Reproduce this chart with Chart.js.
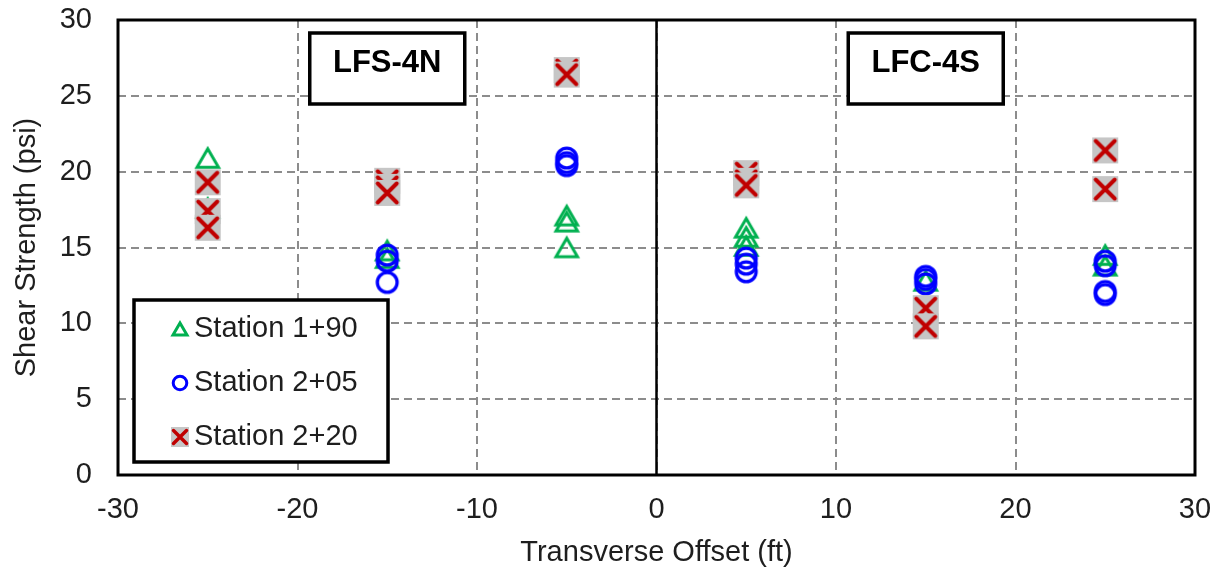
<!DOCTYPE html>
<html>
<head>
<meta charset="utf-8">
<script src="https://cdn.jsdelivr.net/npm/chart.js@4.4.1/dist/chart.umd.min.js"></script>
<style>
  html, body { margin: 0; padding: 0; background: #ffffff; }
  #wrap { width: 1215px; height: 571px; }
</style>
</head>
<body>
<div id="wrap"><canvas id="c" width="1215" height="571"></canvas></div>
<script>
// Axis ticks
const xTicks = [-30, -20, -10, 0, 10, 20, 30];
const yTicks = [0, 5, 10, 15, 20, 25, 30];

// Series names and panel labels
const seriesNames = ['Station 1+90', 'Station 2+05', 'Station 2+20'];
const panelNames = ['LFS-4N', 'LFC-4S'];
const panelOffsets = [-15, 15];

// Station 1+90 (triangles)
const offsets190 = [-25, -25, -15, -15, -5, -5, -5, 5, 5, 5, 15, 25, 25];
const strength190 = [20.9, 17.6, 14.8, 14.3, 17.1, 16.7, 15.0, 16.3, 15.7, 15.1, 12.8, 14.5, 13.8];

// Station 2+05 (circles)
const offsets205 = [-15, -15, -15, -5, -5, -5, 5, 5, 5, 15, 15, 15, 25, 25, 25, 25];
const strength205 = [14.5, 14.1, 12.7, 20.9, 20.6, 20.4, 14.3, 13.9, 13.4, 13.1, 12.9, 12.6, 14.1, 13.8, 12.1, 11.9];

// Station 2+20 (crosses)
const offsets220 = [-25, -25, -25, -15, -15, -15, -5, -5, 5, 5, 5, 15, 15, 25, 25];
const strength220 = [19.3, 17.4, 16.3, 19.4, 19.0, 18.6, 26.7, 26.4, 19.9, 19.4, 19.1, 11.0, 9.8, 21.4, 18.85];

const GREEN = '#00b050';
const BLUE = '#0000ff';
const RED = '#c00000';
const GRAYBOX = '#c6c6c6';
const TEXT = '#1e1e1e';
const FONT = "'Liberation Sans', Arial, sans-serif";

// Paint one marker of the given kind centred on (cx, cy)
function paintMarker(g, kind, cx, cy, big) {
  g.save();
  if (kind === 'triangle') {
    const w = big ? 21.5 : 14, h = big ? 18.5 : 12;
    g.beginPath();
    g.moveTo(cx, cy - h / 2);
    g.lineTo(cx + w / 2, cy + h / 2);
    g.lineTo(cx - w / 2, cy + h / 2);
    g.closePath();
    g.lineWidth = 3;
    g.lineJoin = 'miter';
    g.strokeStyle = GREEN;
    g.stroke();
  } else if (kind === 'circle') {
    const r = big ? 9.9 : 6.8;
    g.beginPath();
    g.arc(cx, cy, r, 0, Math.PI * 2);
    g.lineWidth = big ? 3.3 : 3;
    g.strokeStyle = BLUE;
    g.stroke();
  } else {
    const bw = big ? 26 : 18, bh = big ? 26 : 20;
    const d = big ? 9.5 : 6.5;
    g.fillStyle = GRAYBOX;
    g.fillRect(cx - bw / 2, cy - bh / 2, bw, bh);
    g.beginPath();
    g.moveTo(cx - d, cy - d); g.lineTo(cx + d, cy + d);
    g.moveTo(cx + d, cy - d); g.lineTo(cx - d, cy + d);
    g.lineWidth = big ? 4 : 3.5;
    g.lineCap = 'round';
    g.strokeStyle = RED;
    g.stroke();
  }
  g.restore();
}

function markerCanvas(kind) {
  const c = document.createElement('canvas');
  c.width = 32; c.height = 32;
  paintMarker(c.getContext('2d'), kind, 16, 16, true);
  return c;
}

const kinds = ['triangle', 'circle', 'cross'];
const toPoints = (xs, ys) => xs.map((x, i) => ({ x: x, y: ys[i] }));

// Frame, zero line, panel name boxes and the legend box
const overlay = {
  id: 'overlay',
  afterDatasetsDraw(chart) {
    const { ctx, chartArea: a, scales } = chart;
    ctx.save();
    // vertical line at zero offset
    const x0 = scales.x.getPixelForValue(0);
    ctx.beginPath();
    ctx.moveTo(x0, a.top); ctx.lineTo(x0, a.bottom);
    ctx.lineWidth = 2.5; ctx.strokeStyle = '#000';
    ctx.stroke();

    // panel name boxes
    ctx.font = 'bold 31px ' + FONT;
    ctx.textAlign = 'center'; ctx.textBaseline = 'middle';
    panelNames.forEach((name, i) => {
      const cx = scales.x.getPixelForValue(panelOffsets[i]);
      const bw = 155, top = a.top + 13, bh = 71;
      ctx.fillStyle = '#fff';
      ctx.fillRect(cx - bw / 2, top, bw, bh);
      ctx.lineWidth = 3.5; ctx.strokeStyle = '#000';
      ctx.strokeRect(cx - bw / 2, top, bw, bh);
      ctx.fillStyle = '#000';
      ctx.fillText(name, cx, top + 30);
    });

    // legend
    const lx = a.left + 16, ly = a.top + 280, lw = 254, lh = 162;
    ctx.fillStyle = '#fff';
    ctx.fillRect(lx, ly, lw, lh);
    ctx.lineWidth = 3.5; ctx.strokeStyle = '#000';
    ctx.strokeRect(lx, ly, lw, lh);
    ctx.font = '29px ' + FONT;
    ctx.textAlign = 'left'; ctx.textBaseline = 'middle';
    seriesNames.forEach((name, i) => {
      const ry = ly + 29 + i * 54;
      paintMarker(ctx, kinds[i], lx + 46, ry, false);
      ctx.fillStyle = TEXT;
      ctx.fillText(name, lx + 60, ry);
    });

    // plot frame
    ctx.lineWidth = 3; ctx.strokeStyle = '#000';
    ctx.strokeRect(a.left, a.top, a.right - a.left, a.bottom - a.top);
    ctx.restore();
  }
};

const gridOpts = { color: '#8c8c8c', lineWidth: 2, drawTicks: false };
const borderOpts = { display: false, dash: [8, 5] };

new Chart(document.getElementById('c'), {
  type: 'scatter',
  data: {
    datasets: [
      { label: seriesNames[0], data: toPoints(offsets190, strength190), pointStyle: markerCanvas('triangle'), pointRadius: 10, order: 3 },
      { label: seriesNames[1], data: toPoints(offsets205, strength205), pointStyle: markerCanvas('circle'), pointRadius: 10, order: 2 },
      { label: seriesNames[2], data: toPoints(offsets220, strength220), pointStyle: markerCanvas('cross'), pointRadius: 10, order: 1 }
    ]
  },
  options: {
    responsive: false,
    animation: false,
    events: [],
    layout: { padding: { top: 20, right: 20, left: 0, bottom: 0 } },
    plugins: { legend: { display: false }, tooltip: { enabled: false } },
    scales: {
      x: {
        type: 'linear',
        min: xTicks[0], max: xTicks[xTicks.length - 1],
        afterBuildTicks: s => { s.ticks = xTicks.map(v => ({ value: v })); },
        afterFit: s => { s.height = 96; s.paddingLeft = 0; s.paddingRight = 0; },
        grid: gridOpts,
        border: borderOpts,
        ticks: { font: { family: FONT, size: 29 }, color: TEXT, padding: 18, maxRotation: 0, autoSkip: false },
        title: { display: true, text: 'Transverse Offset (ft)', font: { family: FONT, size: 29 }, color: TEXT, padding: { top: 0, bottom: 1 } }
      },
      y: {
        type: 'linear',
        min: yTicks[0], max: yTicks[yTicks.length - 1],
        afterBuildTicks: s => { s.ticks = yTicks.map(v => ({ value: v })); },
        afterFit: s => { s.width = 118; s.paddingTop = 0; s.paddingBottom = 0; },
        grid: gridOpts,
        border: borderOpts,
        ticks: { font: { family: FONT, size: 29 }, color: TEXT, padding: 26, autoSkip: false },
        title: { display: true, text: 'Shear Strength (psi)', font: { family: FONT, size: 29 }, color: TEXT, padding: { top: 10, bottom: 0 } }
      }
    }
  },
  plugins: [overlay]
});
</script>
</body>
</html>
